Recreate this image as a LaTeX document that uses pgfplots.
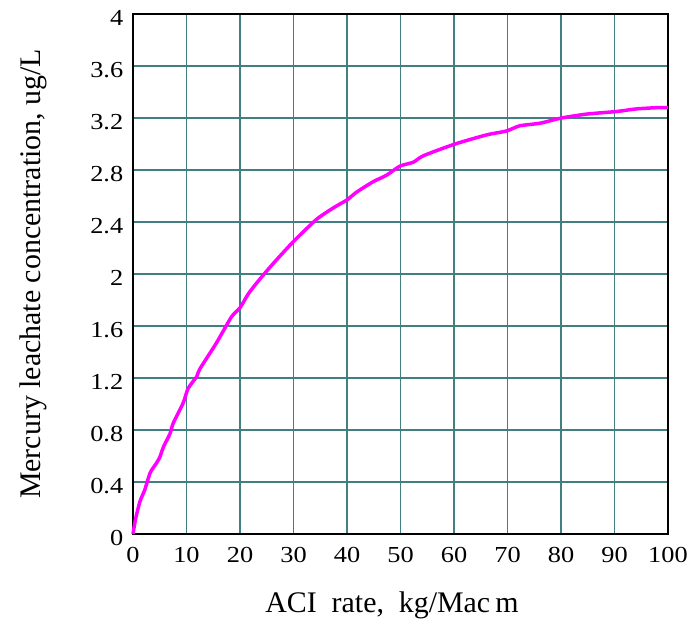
\documentclass[border=0pt]{standalone}
\usepackage{pgfplots}
\pgfplotsset{compat=1.18}
\usepackage{fontspec}
\setmainfont{Liberation Serif}
\definecolor{gridteal}{RGB}{64,128,128}
\definecolor{curvemag}{RGB}{255,0,255}
\begin{document}
\begin{tikzpicture}
\begin{axis}[
  name=ax,
  scale only axis,
  width=535bp, height=520bp,
  xmin=0, xmax=100, ymin=0, ymax=4,
  xtick={0,10,...,100},
  ytick={0,0.4,0.8,1.2,1.6,2,2.4,2.8,3.2,3.6,4},
  grid=major,
  major grid style={draw=gridteal, line width=1.7pt},
  major tick length=0pt,
  axis line style={black, line width=1.7pt},
  tick label style={font=\fontsize{23}{25}\selectfont, xscale=1.15},
  /pgf/number format/assume math mode=true,
  yticklabel style={/pgf/number format/fixed, xshift=-5bp, yshift=-4bp},
  xticklabel style={yshift=-10bp},
  xlabel={ACI\ \ rate,\ \ kg/Mac\,m},
  ylabel={Mercury leachate concentration, ug/L},
  label style={font=\fontsize{30}{32}\selectfont},
  xlabel style={at={(axis description cs:0.484,-0.137)}, anchor=center},
  ylabel style={at={(axis description cs:-0.187,0.5)}, anchor=center},
  clip=false,
]
\addplot[curvemag, line width=3.5pt, smooth, tension=0.4] coordinates {
(0,0)(0.5,0.12)(1.3,0.25)(2.2,0.34)(3.2,0.47)(4.3,0.54)(5.0,0.59)(5.7,0.67)(6.9,0.77)(7.5,0.85)(9.4,1.01)(10.3,1.12)(11.9,1.21)(12.5,1.27)(15.6,1.47)(18.4,1.67)(20,1.74)(21.6,1.85)(23.7,1.96)(26.2,2.08)(30,2.25)(34.3,2.42)(37.5,2.51)(40,2.57)(41.8,2.63)(44.9,2.71)(47.4,2.76)(49.9,2.83)(52.4,2.86)(54.3,2.91)(60.2,3.00)(66.1,3.07)(69.8,3.10)(72.3,3.14)(76.1,3.16)(80.1,3.20)(84.8,3.23)(90.4,3.25)(94.1,3.27)(98.2,3.28)(100,3.28)
};
\end{axis}
\path (ax.south west) ++(-133bp,-102bp) -- (ax.north east) ++(26bp,14bp);
\end{tikzpicture}
\end{document}
